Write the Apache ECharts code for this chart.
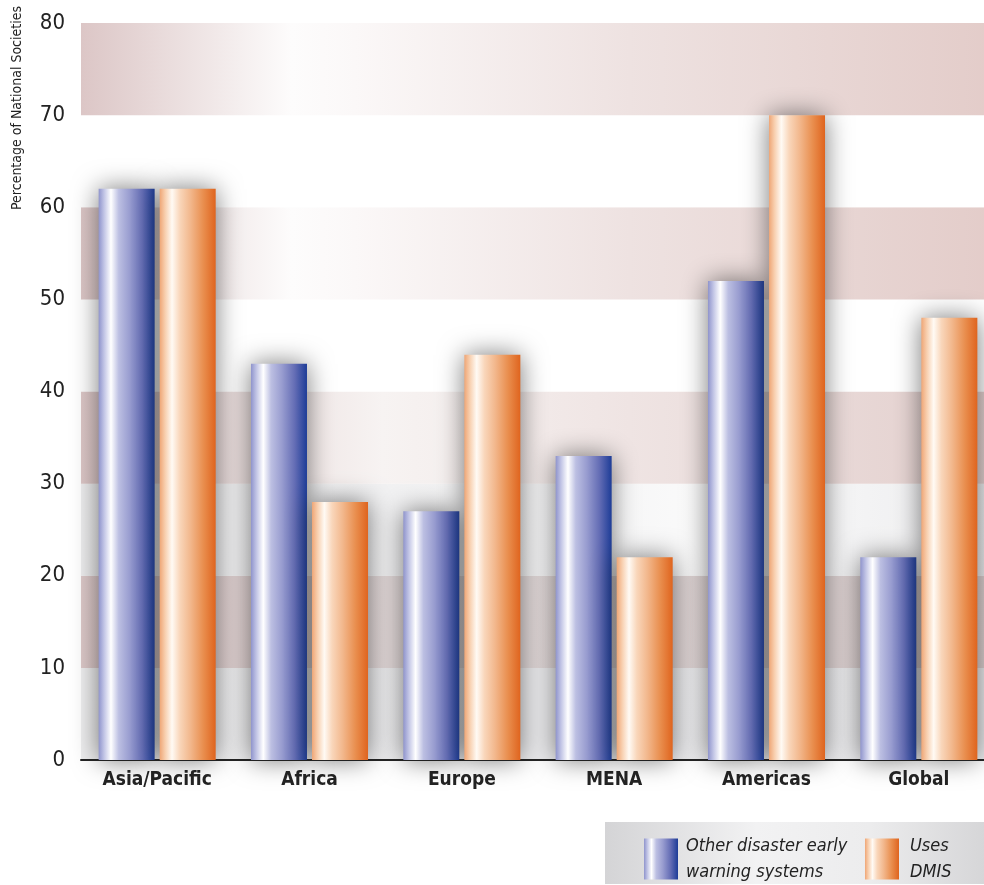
<!DOCTYPE html>
<html>
<head>
<meta charset="utf-8">
<script src="https://cdn.jsdelivr.net/npm/echarts@6/dist/echarts.min.js"></script>
<style>
html,body{margin:0;padding:0;background:#fff;overflow:hidden;width:984px;height:885px;}
#chart{width:996px;height:885px;}
</style>
</head>
<body>
<div id="chart"></div>
<script>
const categories = ['Asia/Pacific', 'Africa', 'Europe', 'MENA', 'Americas', 'Global'];
const otherWarning = [62, 43, 27, 33, 52, 22];
const usesDMIS = [62, 28, 44, 22, 70, 48];
const yTicks = [0, 10, 20, 30, 40, 50, 60, 70, 80];
const seriesNames = ['Other disaster early\nwarning systems', 'Uses\nDMIS'];
const yTitle = 'Percentage of National Societies';

const FONT = "'Liberation Sans Narrow', 'DejaVu Sans Condensed', sans-serif";

function hGrad(stops) {
  return {
    type: 'linear', x: 0, y: 0, x2: 1, y2: 0,
    colorStops: stops.map(s => ({ offset: s[0], color: s[1] }))
  };
}

const blueGrad = hGrad([[0, '#8f94cc'], [0.1, '#c3c6e6'], [0.22, '#ffffff'], [0.36, '#bcbfe2'], [0.55, '#999dd0'], [0.78, '#646db5'], [1, '#1d3c97']]);
const orangeGrad = hGrad([[0, '#efa676'], [0.1, '#f8d0b0'], [0.22, '#fffaf4'], [0.36, '#f9d6ba'], [0.55, '#f2b78c'], [0.78, '#e98e4e'], [1, '#df641e']]);

const pinkBand = hGrad([[0, '#dcc6c6'], [0.23, '#fdfcfc'], [0.3, '#fbf8f8'], [0.6, '#eee2e1'], [1, '#e3ccc9']]);
const pinkBand2 = hGrad([[0, '#dcc6c6'], [0.33, '#f7f3f2'], [0.6, '#efe4e3'], [1, '#e3cfcd']]);
const grayPink = hGrad([[0, '#dcc8c8'], [0.4, '#e3dbdb'], [0.7, '#dfd4d4'], [1, '#dccfcf']]);
const lightGray = hGrad([[0, '#ededee'], [0.5, '#f3f3f4'], [0.7, '#fbfbfb'], [1, '#ececee']]);
const lightGray0 = hGrad([[0, '#eeeeef'], [0.5, '#ececee'], [1, '#ebebed']]);

// bands from 0-10 up to 70-80
const bandColors = [lightGray0, grayPink, lightGray, pinkBand2, '#ffffff', pinkBand, '#ffffff', pinkBand];

const chart = echarts.init(document.getElementById('chart'));
chart.setOption({
  backgroundColor: '#ffffff',
  animation: false,
  grid: { left: 81, top: 23, right: 1, bottom: 125, containLabel: false },
  xAxis: {
    type: 'category',
    data: categories,
    axisLine: { show: true, lineStyle: { color: '#222', width: 2 } },
    axisTick: { show: false },
    axisLabel: { fontFamily: FONT, fontSize: 19, fontWeight: 'bold', color: '#222', margin: 11 }
  },
  yAxis: {
    type: 'value',
    min: yTicks[0],
    max: yTicks[yTicks.length - 1],
    interval: 10,
    axisLine: { show: false },
    axisTick: { show: false },
    splitLine: { show: false },
    splitArea: { show: true, areaStyle: { color: bandColors } },
    axisLabel: { fontFamily: FONT, fontSize: 22, color: '#222', margin: 16 }
  },
  legend: [
    {
      data: [seriesNames[0]], left: 639, top: 828, icon: 'rect',
      itemWidth: 34, itemHeight: 41,
      textStyle: { fontFamily: FONT, fontSize: 18, fontStyle: 'italic', color: '#222', lineHeight: 26, padding: [0, 0, 0, 3] }
    },
    {
      data: [seriesNames[1]], left: 860, top: 828, icon: 'rect',
      itemWidth: 34, itemHeight: 41,
      textStyle: { fontFamily: FONT, fontSize: 18, fontStyle: 'italic', color: '#222', lineHeight: 26, padding: [0, 0, 0, 6] }
    }
  ],
  graphic: [
    {
      type: 'rect', left: 605, top: 822, z: -1,
      shape: { width: 379, height: 62 },
      style: { fill: hGrad([[0, '#d4d4d6'], [0.4, '#f2f2f3'], [0.7, '#ececed'], [1, '#d6d6d8']]) }
    },
    {
      type: 'text', x: 17, y: 108, rotation: Math.PI / 2,
      style: { text: yTitle, fontFamily: FONT, fontSize: 14, fill: '#222', textAlign: 'center', textVerticalAlign: 'middle' }
    }
  ],
  series: [
    {
      name: seriesNames[0], type: 'bar', data: otherWarning,
      barWidth: 56, barGap: '9%',
      itemStyle: { color: blueGrad, shadowBlur: 26, shadowColor: 'rgba(30,30,30,0.6)' }
    },
    {
      name: seriesNames[1], type: 'bar', data: usesDMIS,
      barWidth: 56, barGap: '9%',
      itemStyle: { color: orangeGrad, shadowBlur: 26, shadowColor: 'rgba(30,30,30,0.6)' }
    }
  ]
});
</script>
</body>
</html>
